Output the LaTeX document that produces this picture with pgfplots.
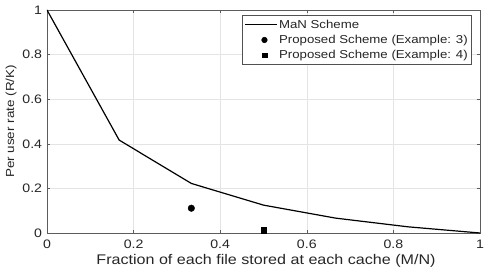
\documentclass[border=0pt]{standalone}
\usepackage{pgfplots}
\pgfplotsset{compat=1.18}
\usepackage{fontspec}
\setmainfont[FakeStretch=1.15]{Liberation Sans}
\definecolor{axgray}{RGB}{38,38,38}
\definecolor{gridgray}{RGB}{228,228,228}
\begin{document}
\begin{tikzpicture}
\begin{axis}[
  scale only axis,
  width=433pt, height=223pt,
  xmin=0, xmax=1, ymin=0, ymax=1,
  xtick={0,0.2,0.4,0.6,0.8,1},
  ytick={0,0.2,0.4,0.6,0.8,1},
  xticklabels={0,0.2,0.4,0.6,0.8,1},
  yticklabels={0,0.2,0.4,0.6,0.8,1},
  tick align=inside,
  major tick length=3pt,
  grid=major,
  major grid style={gridgray, line width=0.5pt},
  axis line style={axgray!75, line width=0.6pt},
  every tick/.style={axgray!75},
  ticklabel style={font=\fontsize{12.3}{14}\selectfont, text=axgray},
  xticklabel style={anchor=north, inner ysep=0pt},
  xticklabel shift=7pt,
  yticklabel style={anchor=east, inner xsep=0pt},
  yticklabel shift=4.7pt,
  xlabel={Fraction of each file stored at each cache (M/N)},
  ylabel={Per user rate (R/K)},
  xlabel style={font=\fontsize{14}{16}\selectfont, text=axgray,
    at={(axis description cs:0.5058,-0.1435)}, anchor=base},
  ylabel style={font=\fontsize{11.7}{14}\selectfont, text=axgray,
    at={(axis description cs:-0.0762,0.5)}, anchor=base},
  legend style={at={(axis description cs:0.9815,0.9776)}, anchor=north east,
    draw=axgray!80, line width=0.5pt,
    font=\fontsize{11.5}{13}\selectfont, text=axgray, row sep=2.5pt,
    inner xsep=3pt, inner ysep=3pt,
    nodes={inner xsep=1pt, inner ysep=1.5pt}},
  legend cell align=left,
]
\addplot[black, line width=1.2pt,
  legend image code/.code={\draw[black, line width=1.2pt] (0pt,0pt) -- (32pt,0pt);}] coordinates {
  (0,1) (0.16667,0.41667) (0.33333,0.22222) (0.5,0.125)
  (0.66667,0.06667) (0.83333,0.02778) (1,0)};
\addlegendentry{MaN Scheme}
\addlegendimage{legend image code/.code={\draw[white, line width=0.1pt] (0pt,0pt) -- (32pt,0pt); \fill[black] (19pt,0pt) circle[radius=2.8pt];}}
\addlegendentry{Proposed Scheme (Example: 3)}
\addlegendimage{legend image code/.code={\draw[white, line width=0.1pt] (0pt,0pt) -- (32pt,0pt); \fill[black] (16.6pt,-2.3pt) rectangle (21.4pt,2.3pt);}}
\addlegendentry{Proposed Scheme (Example: 4)}
\addplot[only marks, mark=*, mark size=3.3pt, black, forget plot] coordinates {(0.33333,0.11111)};
\addplot[only marks, mark=square*, mark size=2.8pt, black, forget plot] coordinates {(0.5,0.0139)};
\end{axis}
\pgfresetboundingbox
\path ([shift={(-47pt,-40pt)}]current axis.south west) rectangle ([shift={(10pt,10pt)}]current axis.north east);
\end{tikzpicture}
\end{document}
